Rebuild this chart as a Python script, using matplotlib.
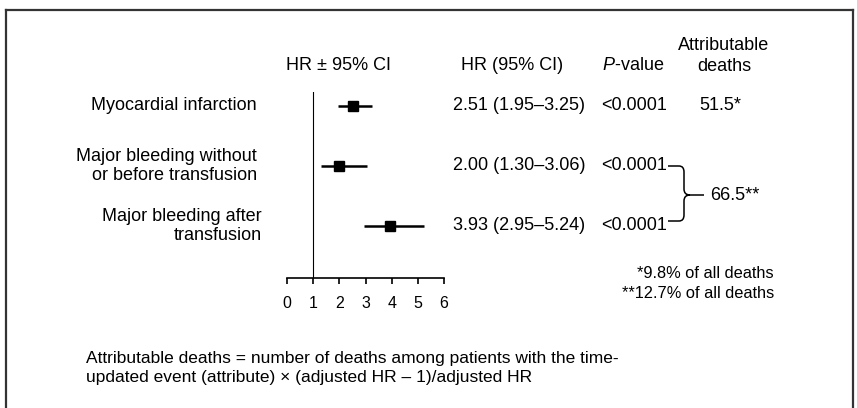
import matplotlib.pyplot as plt
import matplotlib.transforms as mtransforms
from matplotlib.path import Path
from matplotlib.patches import PathPatch
from matplotlib.lines import Line2D

plt.rcParams['font.family'] = ['Liberation Sans', 'DejaVu Sans']
plt.rcParams['mathtext.fontset'] = 'custom'
plt.rcParams['mathtext.it'] = 'Liberation Sans:italic'
plt.rcParams['mathtext.rm'] = 'Liberation Sans'

# data
events = ['Myocardial infarction', 'Major bleeding without\nor before transfusion',
          'Major bleeding after\ntransfusion']
hr = [2.51, 2.00, 3.93]
ci_low = [1.95, 1.30, 2.95]
ci_high = [3.25, 3.06, 5.24]
p_values = ['<0.0001', '<0.0001', '<0.0001']
x_ticks = [0, 1, 2, 3, 4, 5, 6]

W, H = 857, 408
fig = plt.figure(figsize=(W / 100, H / 100), dpi=100)


def fx(px):
    return px / W


def fy(py):
    return 1 - py / H


# frame around figure (bottom cut off)
for xs, ys in [([6, 6], [9.5, 410]), ([6, 853], [9.5, 9.5]), ([853, 853], [9.5, 410])]:
    fig.add_artist(Line2D([fx(x) for x in xs], [fy(y) for y in ys],
                          color='#333333', lw=1.6, transform=fig.transFigure))

# forest axes: x 0..6 from px 287 to 444, rows at px 106, 166, 226
ax = fig.add_axes([fx(287), fy(278), fx(444) - fx(287), (278 - 92) / H])
ax.set_xlim(0, 6)
ax.set_ylim(2.867, -0.233)
for s in ['top', 'right', 'left']:
    ax.spines[s].set_visible(False)
ax.spines['bottom'].set_linewidth(1.2)
ax.set_yticks([])
ax.set_xticks(x_ticks)
ax.tick_params(axis='x', direction='out', length=4, width=1.2, labelsize=11.5, pad=9)
ax.axvline(1, color='black', lw=0.8)
ax.patch.set_alpha(0)

rows = list(range(len(events)))
ax.hlines(rows, ci_low, ci_high, color='black', lw=1.8)
ax.plot(hr, rows, 's', color='black', markersize=7)

tr = mtransforms.blended_transform_factory(fig.transFigure, ax.transData)


def row_y(py):
    return (py - 106) / 60


fs = 13
ax.text(fx(338), row_y(66), 'HR ± 95% CI', transform=tr, ha='center', va='center', fontsize=fs)
ax.text(fx(512), row_y(66), 'HR (95% CI)', transform=tr, ha='center', va='center', fontsize=fs)
ax.text(fx(633), row_y(66), '$P$-value', transform=tr, ha='center', va='center', fontsize=fs)
ax.text(fx(724), row_y(56), 'Attributable\ndeaths', transform=tr, ha='center', va='center',
        fontsize=fs, linespacing=1.25)

label_right = [257, 257, 262]
for i, name in enumerate(events):
    ax.text(fx(label_right[i]), i, name, transform=tr, ha='right', va='center',
            fontsize=fs, linespacing=1.2)
    ax.text(fx(453), i, '%.2f (%.2f\u2013%.2f)' % (hr[i], ci_low[i], ci_high[i]),
            transform=tr, ha='left', va='center', fontsize=fs)
    ax.text(fx(601), i, p_values[i], transform=tr, ha='left', va='center', fontsize=fs)

ax.text(fx(720), 0, '51.5*', transform=tr, ha='center', va='center', fontsize=fs)
ax.text(fx(710), 1.5, '66.5**', transform=tr, ha='left', va='center', fontsize=fs)

# brace joining the two bleeding rows
verts = [(668, 166), (679, 166), (684, 166), (684, 172), (684, 189), (684, 195), (690, 195),
         (704, 195), (690, 195), (684, 195), (684, 201), (684, 215), (684, 221), (679, 221),
         (668, 221)]
codes = [Path.MOVETO, Path.LINETO, Path.CURVE3, Path.CURVE3, Path.LINETO, Path.CURVE3, Path.CURVE3,
         Path.LINETO, Path.MOVETO, Path.CURVE3, Path.CURVE3, Path.LINETO, Path.CURVE3, Path.CURVE3,
         Path.LINETO]
path = Path([(fx(x), fy(y)) for x, y in verts], codes)
fig.add_artist(PathPatch(path, fill=False, lw=1.1, color='black', transform=fig.transFigure))

fig.text(fx(774), fy(274), '*9.8% of all deaths', ha='right', va='center', fontsize=11.8)
fig.text(fx(774), fy(294), '**12.7% of all deaths', ha='right', va='center', fontsize=11.8)

fig.text(fx(86), fy(368), 'Attributable deaths = number of deaths among patients with the time-\n'
         'updated event (attribute) \u00d7 (adjusted HR \u2013 1)/adjusted HR',
         ha='left', va='center', fontsize=12.5, linespacing=1.35)

fig.savefig('out.png', dpi=100)
